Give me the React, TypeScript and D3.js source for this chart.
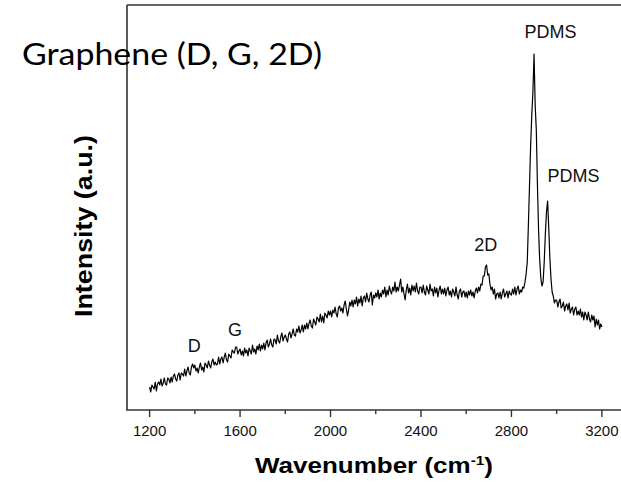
import React from "react";
import * as d3 from "d3";

const wnStart = 1200;
const wnStep = 5;
const intensity: number[] = [
  // 1200-1295
  23, 18, 25, 23, 21, 28, 19, 26, 28, 25, 31, 24, 27, 32, 26, 25, 32, 31, 27, 33,
  // 1300-1395
  28, 34, 36, 31, 29, 35, 37, 30, 37, 36, 34, 41, 34, 39, 43, 37, 35, 43, 46, 42,
  // 1400-1495
  45, 39, 42, 37, 43, 47, 40, 43, 38, 47, 45, 42, 49, 45, 42, 48, 51, 45, 48, 45,
  // 1500-1595
  46, 53, 46, 51, 53, 47, 53, 57, 50, 48, 56, 54, 52, 60, 58, 57, 63, 63, 56, 59,
  // 1600-1695
  61, 55, 59, 54, 62, 57, 60, 54, 62, 59, 56, 65, 58, 61, 56, 64, 60, 66, 59, 65,
  // 1700-1795
  61, 67, 60, 67, 70, 63, 66, 71, 65, 63, 71, 70, 66, 75, 69, 67, 73, 77, 69, 73,
  // 1800-1895
  75, 71, 68, 76, 78, 72, 76, 81, 75, 74, 81, 78, 84, 77, 80, 85, 78, 85, 81, 87,
  // 1900-1995
  81, 87, 90, 84, 82, 91, 88, 85, 93, 91, 88, 96, 88, 94, 87, 97, 95, 92, 99, 95,
  // 2000-2095
  99, 93, 100, 97, 103, 96, 93, 102, 104, 99, 102, 97, 105, 109, 101, 94, 100, 108, 104, 110,
  // 2100-2195
  103, 110, 106, 113, 104, 111, 107, 114, 104, 112, 114, 108, 117, 111, 108, 115, 118, 105, 115, 112,
  // 2200-2295
  117, 113, 120, 111, 117, 113, 120, 116, 123, 113, 120, 115, 124, 119, 116, 123, 119, 128, 118, 123,
  // 2300-2395
  119, 125, 131, 118, 123, 116, 110, 120, 126, 117, 122, 115, 125, 119, 124, 118, 127, 119, 116, 123,
  // 2400-2495
  123, 117, 125, 118, 115, 124, 120, 116, 126, 119, 121, 114, 123, 117, 122, 113, 120, 124, 116, 121,
  // 2500-2595
  116, 122, 114, 120, 123, 115, 119, 113, 121, 118, 114, 123, 115, 111, 119, 121, 113, 118, 119, 113,
  // 2600-2695
  118, 112, 119, 115, 120, 114, 118, 112, 119, 122, 117, 123, 119, 126, 125, 134, 134, 143, 145, 135,
  // 2700-2795
  136, 126, 120, 123, 116, 121, 111, 116, 117, 112, 118, 111, 117, 121, 113, 116, 119, 112, 119, 116,
  // 2800-2895
  115, 121, 116, 123, 115, 121, 124, 116, 120, 118, 123, 122, 128, 136, 148, 185, 225, 265, 295, 318,
  // 2900-2995
  356, 305, 280, 225, 180, 150, 132, 124, 128, 148, 176, 198, 209, 182, 152, 131, 118, 114, 107, 110,
  // 3000-3095
  110, 103, 108, 111, 102, 104, 108, 99, 104, 106, 100, 107, 97, 101, 103, 95, 101, 103, 95, 99,
  // 3100-3195
  95, 101, 93, 98, 90, 98, 95, 90, 98, 91, 88, 95, 90, 94, 83, 91, 85, 90, 81, 86,
  // 3200
  83,
];

const majorTicks = [1200, 1600, 2000, 2400, 2800, 3200];
const minorTicks = [1400, 1800, 2200, 2600, 3000];

const peakLabels = ["D", "G", "2D", "PDMS", "PDMS"];
const peakLabelWn = [1397, 1578, 2686, 2973, 3075];
const peakLabelI = [58, 74, 159, 372.5, 228];

const W = 621;
const H = 482;

export default function App() {
  const x = d3.scaleLinear().domain([1100, 3300]).range([127, 624.5]);
  const y = d3.scaleLinear().domain([0, 405]).range([410, 5]);

  const pts: [number, number][] = intensity.map((v, i) => [wnStart + i * wnStep, v]);
  const line = d3
    .line<[number, number]>()
    .x((d) => x(d[0]))
    .y((d) => y(d[1]));

  const axisFont = "'Liberation Sans', Arial, sans-serif";
  const frameColor = "#333";

  return (
    <svg
      width={W}
      height={H}
      style={{ position: "absolute", left: 0, top: 0, background: "#fff" }}
    >
      <rect x={0} y={0} width={W} height={H} fill="#fff" />
      {/* frame */}
      <line x1={127} y1={5} x2={W} y2={5} stroke={frameColor} strokeWidth={1.6} />
      <line x1={127} y1={5} x2={127} y2={410} stroke={frameColor} strokeWidth={1.6} />
      <line x1={126.2} y1={410} x2={W} y2={410} stroke={frameColor} strokeWidth={1.6} />
      {/* ticks */}
      {majorTicks.map((t) => (
        <g key={"M" + t}>
          <line x1={x(t)} y1={410} x2={x(t)} y2={417} stroke={frameColor} strokeWidth={1.4} />
          <text
            x={x(t)}
            y={436}
            textAnchor="middle"
            fontFamily={axisFont}
            fontSize={15}
            fill="#111"
          >
            {t}
          </text>
        </g>
      ))}
      {minorTicks.map((t) => (
        <line key={"m" + t} x1={x(t)} y1={410} x2={x(t)} y2={414} stroke={frameColor} strokeWidth={1.4} />
      ))}
      {/* spectrum */}
      <path d={line(pts) || ""} fill="none" stroke="#000" strokeWidth={1.2} strokeLinejoin="round" />
      {/* peak labels */}
      {peakLabels.map((l, i) => (
        <text
          key={"p" + i}
          x={x(peakLabelWn[i])}
          y={y(peakLabelI[i])}
          textAnchor="middle"
          fontFamily={axisFont}
          fontSize={18}
          fill="#111"
        >
          {l}
        </text>
      ))}
      {/* axis titles */}
      <text
        x={374}
        y={473}
        textAnchor="middle"
        fontFamily={axisFont}
        fontWeight="bold"
        fontSize={22}
        fill="#000"
        textLength={238}
        lengthAdjust="spacingAndGlyphs"
      >
        Wavenumber (cm
        <tspan dy={-8} fontSize={13}>-1</tspan>
        <tspan dy={8}>)</tspan>
      </text>
      <text
        transform="translate(92,226) rotate(-90)"
        textAnchor="middle"
        fontFamily={axisFont}
        fontWeight="bold"
        fontSize={23}
        fill="#000"
        textLength={182}
        lengthAdjust="spacingAndGlyphs"
      >
        Intensity (a.u.)
      </text>
      {/* overlay title */}
      <text
        x={22}
        y={65}
        fontFamily="Lato, 'Open Sans', sans-serif"
        fontSize={30}
        fill="#000"
        textLength={300}
        lengthAdjust="spacingAndGlyphs"
      >
        Graphene (D, G, 2D)
      </text>
    </svg>
  );
}
